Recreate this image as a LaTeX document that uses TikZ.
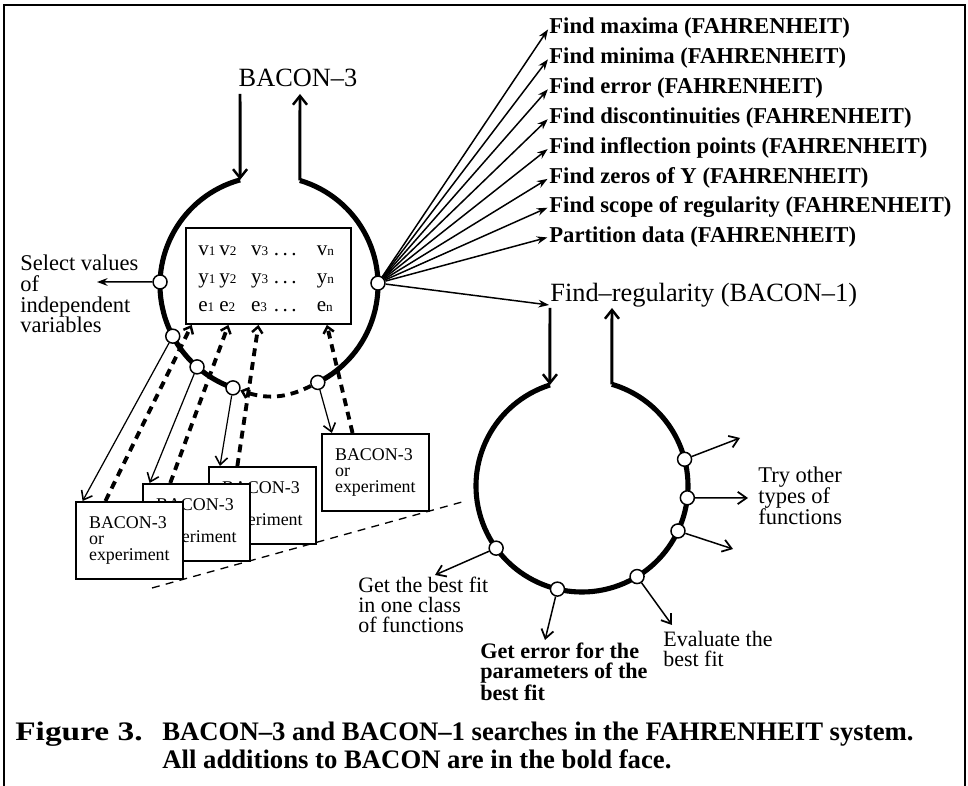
\documentclass[tikz,border=0pt]{standalone}
\usepackage{fontspec}
\setmainfont{Liberation Serif}
\usetikzlibrary{arrows.meta,calc}
\newcommand\fntBig{\fontsize{15}{15}\selectfont}
\newcommand\fntLab{\fontsize{12.8}{11.8}\selectfont}
\newcommand\fntLabB{\fontsize{12.5}{11.2}\selectfont}
\newcommand\fntBold{\bfseries\fontsize{12.6}{11.3}\selectfont}
\newcommand\fntFan{\bfseries\fontsize{12.9}{12.9}\selectfont}
\newcommand\fntBox{\fontsize{10.2}{9}\selectfont}
\newcommand\fntData{\fontsize{12}{12}\selectfont}
\newcommand\fntCap{\bfseries\fontsize{15.2}{16}\selectfont}
\newcommand\dsub[1]{{\fontsize{7.5}{7.5}\selectfont #1}}
\newcommand\drow[2]{\makebox[11.9pt][l]{#1\dsub{1}}\makebox[18.1pt][l]{#1\dsub{2}}\makebox[13pt][l]{#1\dsub{3}}\makebox[24.4pt][l]{.\,.\,.}#1\dsub{#2}}
\begin{document}
\begin{tikzpicture}[x=0.02cm,y=0.02cm,
  frame/.style={line width=1.1pt},
  ring/.style={line width=2.9pt},
  dot/.style={circle,draw,fill=white,line width=0.85pt,minimum size=0.28cm,inner sep=0pt},
  fanarrow/.style={line width=0.85pt,-{Stealth[length=6pt,width=4.4pt]}},
  neckarrow/.style={line width=1.7pt,-{Straight Barb[length=5pt,width=8pt,line width=1.4pt]}},
  thinarrow/.style={line width=0.7pt,-{Straight Barb[length=4.5pt,width=7pt,line width=0.9pt]}},
  outarrow/.style={line width=0.85pt,-{Straight Barb[length=5pt,width=7pt,line width=1pt]}},
  dasharrow/.style={line width=2.2pt,dash pattern=on 4.5pt off 3.4pt,-{Straight Barb[length=3.5pt,width=6pt,line width=1.4pt]}},
  thindash/.style={line width=0.75pt,dash pattern=on 4.5pt off 3.6pt},
  bbox/.style={draw,fill=white,line width=1pt,minimum width=2.14cm,minimum height=1.54cm,inner xsep=2pt,inner ysep=0pt,align=left,font=\fntBox,anchor=north west},
  txt/.style={inner sep=0pt,anchor=west,align=left}
]
\useasboundingbox (0,0) rectangle (968,-786);
% frame
\draw[frame] (4,-786) -- (4,-5) -- (965,-5) -- (965,-786);

% perspective dashed line under the stack of boxes
\coordinate (pa) at (152,-588);
\coordinate (pb) at (462,-502);
\draw[thindash] (pa) -- (pb);

% ---------- BACON-3 ring ----------
\coordinate (C1) at (269,-285);
\draw[ring] ($(C1)+(105.4:109)$) arc[start angle=105.4,end angle=250.7,radius=109];
\draw[ring] ($(C1)+(296.6:109)$) arc[start angle=296.6,end angle=433.5,radius=109];
\node[font=\fntBig,inner sep=0pt] (b3t) at (298,-78) {BACON–3};
\coordinate (n1a) at (240,-94);
\coordinate (n1b) at ($(C1)+(105.4:109)$);
\coordinate (n2a) at ($(C1)+(73.5:109)$);
\coordinate (n2b) at (300,-94);
\draw[neckarrow] (n1a) -- (n1b);
\draw[neckarrow] (n2a) -- (n2b);

\node[dot] (L0) at ($(C1)+(178.4:109)$) {};
\node[dot] (L1) at ($(C1)+(208:109)$) {};
\node[dot] (L2) at ($(C1)+(228.7:109)$) {};
\node[dot] (L3) at ($(C1)+(250.7:109)$) {};
\node[dot] (L4) at ($(C1)+(296.6:109)$) {};
\node[dot] (R0) at ($(C1)+(1:109)$) {};
\draw[dasharrow] (L4) to[bend left=23] (L3);

% data box
\node[draw,line width=1.1pt,minimum width=3.3cm,minimum height=1.92cm,anchor=north west,inner sep=0pt] (data) at (185,-227) {};
\node[font=\fntData,inner sep=0pt,anchor=base west] (rv) at (198,-256) {\drow{v}{n}};
\node[font=\fntData,inner sep=0pt,anchor=base west] (ry) at (198,-284) {\drow{y}{n}};
\node[font=\fntData,inner sep=0pt,anchor=base west] (re) at (198,-312) {\drow{e}{n}};

% select values
\node[txt,font=\fntLab] (sel) at (20,-294) {Select values\\of\\independent\\variables};
\coordinate (selt) at (97,-282);
\draw[fanarrow] (L0) -- (selt);

% fan of FAHRENHEIT searches
\node[txt,font=\fntFan] (f1) at (549,-28) {Find maxima (FAHRENHEIT)};
\node[txt,font=\fntFan] (f2) at (549,-58) {Find minima (FAHRENHEIT)};
\node[txt,font=\fntFan] (f3) at (549,-88) {Find error (FAHRENHEIT)};
\node[txt,font=\fntFan] (f4) at (549,-118) {Find discontinuities (FAHRENHEIT)};
\node[txt,font=\fntFan] (f5) at (549,-148) {Find inflection points (FAHRENHEIT)};
\node[txt,font=\fntFan] (f6) at (549,-178) {Find zeros of Y (FAHRENHEIT)};
\node[txt,font=\fntFan] (f7) at (549,-207) {Find scope of regularity (FAHRENHEIT)};
\node[txt,font=\fntFan] (f8) at (549,-237) {Partition data (FAHRENHEIT)};
\foreach \i in {1,...,8}{\draw[fanarrow,shorten >=1pt] (R0) -- (f\i.west);}

% Find-regularity
\node[txt,font=\fntBig] (fr) at (550,-295) {Find–regularity (BACON–1)};
\coordinate (frc) at (549,-305);
\draw[fanarrow] (R0) -- (frc);

% ---------- BACON-1 ring ----------
\coordinate (C2) at (582,-486);
\draw[ring] ($(C2)+(107.6:106)$) arc[start angle=107.6,end angle=433.6,radius=106];
\coordinate (m1a) at (550,-308);
\coordinate (m1b) at ($(C2)+(107.6:106)$);
\coordinate (m2a) at ($(C2)+(73.6:106)$);
\coordinate (m2b) at (612,-308);
\draw[neckarrow] (m1a) -- (m1b);
\draw[neckarrow] (m2a) -- (m2b);

\node[dot] (F) at ($(C2)+(14.6:106)$) {};
\node[dot] (E) at ($(C2)+(-6.4:106)$) {};
\node[dot] (D) at ($(C2)+(-25.1:106)$) {};
\node[dot] (A) at ($(C2)+(215.9:106)$) {};
\node[dot] (B) at ($(C2)+(256.6:106)$) {};
\node[dot] (Cc) at ($(C2)+(301.3:106)$) {};

\coordinate (tF) at (740,-438);
\coordinate (tE) at (748,-498);
\coordinate (tD) at (733,-549);
\coordinate (tA) at (435,-575);
\coordinate (tB) at (545,-640);
\coordinate (tC) at (672,-625);
\draw[outarrow] (F) -- (tF);
\draw[outarrow] (E) -- (tE);
\draw[outarrow] (D) -- (tD);
\draw[outarrow] (A) -- (tA);
\draw[outarrow] (B) -- (tB);
\draw[outarrow] (Cc) -- (tC);

\node[txt,font=\fntLab] (try) at (758,-496) {Try other\\types of\\functions};
\node[txt,font=\fntLabB] (gbf) at (358,-605) {Get the best fit\\in one class\\of functions};
\node[txt,font=\fntBold] (gef) at (480,-672) {Get error for the\\parameters of the\\best fit};
\node[txt,font=\fntLabB] (evl) at (663,-649) {Evaluate the\\best fit};

% ---------- stacked boxes ----------
\node[bbox] (b3) at (208,-466) {BACON-3\\or\\experiment};
\node[bbox] (b2) at (142,-483) {BACON-3\\or\\experiment};
\node[bbox] (b1) at (75,-501) {BACON-3\\or\\experiment};
\node[bbox] (b4) at (321,-433) {BACON-3\\or\\experiment};

\draw[thinarrow] (L1) -- ($(b1.north west)!0.07!(b1.north east)$);
\draw[thinarrow] (L2) -- ($(b2.north west)!0.07!(b2.north east)$);
\draw[thinarrow] (L3) -- ($(b3.north west)!0.11!(b3.north east)$);
\draw[thinarrow] (L4) -- ($(b4.north west)!0.10!(b4.north east)$);

\draw[dasharrow] ($(b1.north west)!0.28!(b1.north east)$) -- ($(data.south west)!0.04!(data.south east)$);
\draw[dasharrow] ($(b2.north west)!0.26!(b2.north east)$) -- ($(data.south west)!0.26!(data.south east)$);
\draw[dasharrow] ($(b3.north west)!0.27!(b3.north east)$) -- ($(data.south west)!0.44!(data.south east)$);
\draw[dasharrow] ($(b4.north west)!0.29!(b4.north east)$) -- ($(data.south west)!0.85!(data.south east)$);

% ---------- caption ----------
\node[font=\fntCap,inner sep=0pt,anchor=base west] (cap1) at (15,-741) {\scalebox{1.25}[1]{Figure 3.}};
\node[font=\fntCap,inner sep=0pt,anchor=base west] (cap2) at (162,-741) {BACON–3 and BACON–1 searches in the FAHRENHEIT system.};
\node[font=\fntCap,inner sep=0pt,anchor=base west] (cap3) at (162,-769) {All additions to BACON are in the bold face.};
\end{tikzpicture}
\end{document}
